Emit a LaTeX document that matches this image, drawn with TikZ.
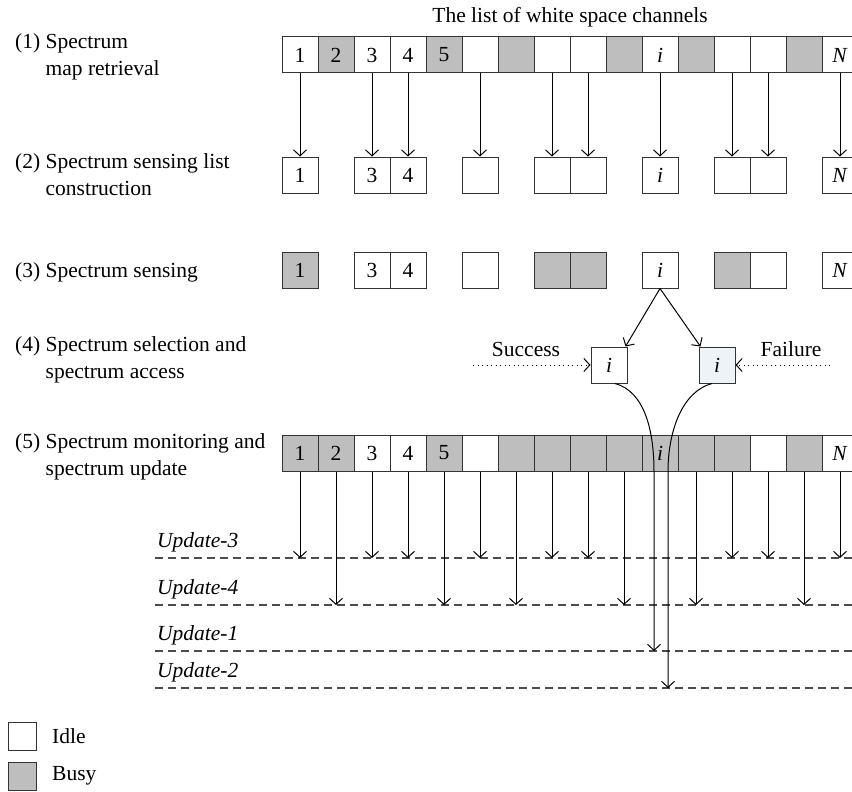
\documentclass[tikz,border=0pt]{standalone}
\usepackage{fontspec}
\setmainfont{Liberation Serif}
\usetikzlibrary{arrows.meta, positioning}
\definecolor{busygray}{HTML}{BEBEBE}
\definecolor{failblue}{HTML}{EEF3F8}

\begin{document}
\fontsize{21.5}{27}\selectfont
\begin{tikzpicture}[x=1pt,y=-1pt]
\tikzset{
>={Straight Barb[length=6pt,width=13pt]},
cell/.style={draw=black!80,line width=1pt,minimum size=36pt,inner sep=0pt},
idle/.style={cell,fill=white},
busy/.style={cell,fill=busygray},
arr/.style={->,line width=1pt},
upd/.style={line width=1.2pt,draw=black!70,dash pattern=on 8pt off 5pt},
dots/.style={->,line width=1pt,dash pattern=on 0.9pt off 3.6pt},
stage/.style={anchor=west,align=left,inner sep=0pt},
updlabel/.style={anchor=base west,inner sep=0pt,font=\itshape}
}

	\useasboundingbox (0,0) rectangle (852,792);

	% stages
	\node[stage] (s1) at (15,57) {(1) Spectrum\\\phantom{(1) }map retrieval};
	\node[stage] (s2) at (15,177) {(2) Spectrum sensing list\\\phantom{(2) }construction};
	\node[stage] (s3) at (15,272) {(3) Spectrum sensing};
	\node[stage] (s4) at (15,360) {(4) Spectrum selection and\\\phantom{(4) }spectrum access};
	\node[stage] (s5) at (15,457) {(5) Spectrum monitoring and\\\phantom{(5) }spectrum update};

	% (1) map retrieval
	\node (title) at (570,17) {The list of white space channels};
	\foreach \k/\f/\t in {1/idle/1, 2/busy/2, 3/idle/3, 4/idle/4, 5/busy/5, 6/idle/{}, 7/busy/{}, 8/idle/{}, 9/idle/{}, 10/busy/{}, 11/idle/\textit{i}, 12/busy/{}, 13/idle/{}, 14/idle/{}, 15/busy/{}, 16/idle/\textit{N}}
		\node[\f] (a\k) at (264+36*\k,55) {\t};

	% (2) sensing list
	\foreach \k/\t in {1/1, 3/3, 4/4, 6/{}, 8/{}, 9/{}, 11/\textit{i}, 13/{}, 14/{}, 16/\textit{N}}{
		\node[idle] (b\k) at (264+36*\k,175) {\t};
		\draw[arr] (a\k) -- (b\k);
	}

	% (3) sensing
	\foreach \k/\f/\t in {1/busy/1, 3/idle/3, 4/idle/4, 6/idle/{}, 8/busy/{}, 9/busy/{}, 11/idle/\textit{i}, 13/busy/{}, 14/idle/{}, 16/idle/\textit{N}}
		\node[\f] (c\k) at (264+36*\k,270) {\t};

	% (4) selection and access
	\node[idle] (sl) at (609,365) {\textit{i}};
	\node[cell,fill=failblue] (sr) at (717,365) {\textit{i}};
	\draw[arr] (c11.south) -- ([xshift=-2pt]sl.north east);
	\draw[arr] (c11.south) -- ([xshift=2pt]sr.north west);
	\node (succ) at (526,349) {Success};
	\node (fail) at (791,349) {Failure};
	\coordinate (sw) at (473,365);
	\coordinate (fe) at (830,365);
	\draw[dots] (sw) -- (sl);
	\draw[dots] (fe) -- (sr);

	% (5) monitoring and update
	\foreach \k/\f/\t in {1/busy/1, 2/busy/2, 3/idle/3, 4/idle/4, 5/busy/5, 6/idle/{}, 7/busy/{}, 8/busy/{}, 9/busy/{}, 10/busy/{}, 11/busy/\textit{i}, 12/busy/{}, 13/busy/{}, 14/idle/{}, 15/busy/{}, 16/idle/\textit{N}}
		\node[\f] (e\k) at (264+36*\k,453) {\t};

	\coordinate (u3) at (157,558);
	\coordinate (u4) at (157,605);
	\coordinate (u1) at (157,651);
	\coordinate (u2) at (157,688);
	\node[updlabel] at (157,547) {Update-3};
	\node[updlabel] at (157,594) {Update-4};
	\node[updlabel] at (157,640) {Update-1};
	\node[updlabel] at (157,677) {Update-2};
	\foreach \u in {u3,u4,u1,u2}
		\draw[upd] ([xshift=-2pt]\u) -- ++(700,0);

	\foreach \k in {1,3,4,6,8,9,13,14,16}
		\draw[arr] (e\k) -- (e\k |- u3);
	\foreach \k in {2,5,7,10,12,15}
		\draw[arr] (e\k) -- (e\k |- u4);

	\draw[arr] ([xshift=6pt]sl.south) .. controls +(30,8) and +(0,-40) .. ([xshift=-6pt]e11.south) -- ([xshift=-6pt]e11.south |- u1);
	\draw[arr] ([xshift=-5pt]sr.south) .. controls +(-30,8) and +(0,-40) .. ([xshift=8pt]e11.south) -- ([xshift=8pt]e11.south |- u2);

	% legend
	\node[idle,minimum size=28pt] (idle) at (22.5,736) {};
	\node[busy,minimum size=28pt] (busy) at (22.5,776) {};
	\node[right=15pt of idle,inner sep=0pt] {Idle};
	\node[right=15pt of busy,inner sep=0pt] {Busy};

\end{tikzpicture}
\end{document}
